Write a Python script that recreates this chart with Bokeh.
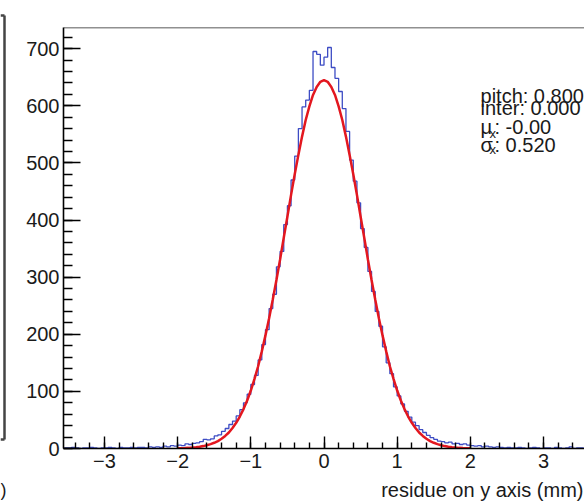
import numpy as np
from bokeh.plotting import figure
from bokeh.layouts import row
from bokeh.models import Range1d, FixedTicker, CustomJSTickFormatter, Label, Span
from bokeh.core.properties import value
from bokeh.embed import file_html
from bokeh.resources import INLINE

# ---------------- data ----------------
hist_start = -3.55
bin_width = 0.05
counts_neg = [
    1, 1, 2, 1, 0, 1, 1, 2, 1, 0,
    1, 1, 2, 1, 0, 2, 1, 1, 2, 1,
    2, 2, 1, 3, 2, 3, 2, 4, 3, 5,
    4, 6, 5, 8, 7, 9, 10, 12, 16, 15,
    17, 22, 24, 30, 35, 42, 48, 57, 68, 80,
    95, 112, 128, 155, 182, 208, 245, 270, 318, 345,
    392, 425, 470, 512, 560, 598, 610, 627, 695, 690,
    671,
]
counts_pos = [
    685, 702, 667, 648, 625, 595, 555, 505, 468, 430,
    385, 352, 310, 275, 240, 214, 178, 150, 131, 108,
    92, 78, 65, 55, 46, 40, 33, 28, 23, 19,
    16, 13, 12, 10, 11, 8, 9, 7, 8, 6,
    5, 4, 5, 3, 4, 3, 2, 3, 2, 1,
    2, 1, 1, 2, 1, 0, 1, 2, 1, 0,
    1, 1, 0, 2, 1, 0, 1, 3, 0, 1,
    1,
]
counts = counts_neg + counts_pos

fit_start = -2.0
fit_step = 0.05
fit_y = [
    0.4, 0.6, 0.8, 1.1, 1.6, 2.2, 3.1, 4.2, 5.7, 7.6,
    10, 13, 17, 22, 28, 36, 45, 56, 69, 84,
    101.5, 122, 144, 170, 198, 228, 261, 295, 331, 369,
    406, 444, 480, 514, 546, 575, 599, 619, 633, 642,
    645,
    642, 633, 619, 599, 575, 546, 514, 480, 444, 406,
    369, 331, 295, 261, 228, 198, 170, 144, 122, 101.5,
    84, 69, 56, 45, 36, 28, 22, 17, 13, 10,
    7.6, 5.7, 4.2, 3.1, 2.2, 1.6, 1.1, 0.8, 0.6, 0.4,
]

x_major = [-3, -2, -1, 0, 1, 2, 3]
y_major = [0, 100, 200, 300, 400, 500, 600, 700]
stat_lines = ["pitch: 0.800", "inter: 0.000"]
mu_text = ": -0.00"
sigma_text = ": 0.520"
x_title = "residue on y axis (mm)"

FONT = "Liberation Sans"

# ---------------- left strip: remnant of the neighbouring pad ----------------
strip = figure(width=8, height=503, output_backend="svg", toolbar_location=None,
               x_range=Range1d(0, 8), y_range=Range1d(503, 0),
               min_border=0, x_axis_type=None, y_axis_type=None)
if "frame_align" in strip.properties():
    strip.frame_align = False
strip.outline_line_color = None
strip.grid.visible = False
strip.background_fill_color = "white"
strip.border_fill_color = "white"
strip.segment(x0=[4], y0=[15], x1=[4], y1=[439], line_color="#444444", line_width=2.5)
strip.segment(x0=[0, 0], y0=[15, 439], x1=[4, 4], y1=[15, 439], line_color="#444444", line_width=2.5)
strip.text(x=[0], y=[489], text=[")"], text_font=value(FONT), text_font_size="18px",
           text_baseline="alphabetic", text_color="#1a1a1a")

# ---------------- main figure ----------------
p = figure(width=576, height=503, output_backend="svg", toolbar_location=None,
           x_range=Range1d(-3.56, 3.56), y_range=Range1d(0, 737),
           min_border_left=55, min_border_right=0, min_border_top=27,
           min_border_bottom=53)
if "frame_align" in p.properties():
    p.frame_align = False
p.outline_line_color = None
p.grid.visible = False
p.background_fill_color = "white"
p.border_fill_color = "white"

xminor = [round(v, 2) for v in np.arange(-3.4, 3.41, 0.2)]
p.xaxis.ticker = FixedTicker(ticks=x_major, minor_ticks=xminor)
p.yaxis.ticker = FixedTicker(ticks=y_major, minor_ticks=list(range(0, 737, 20)))
p.xaxis.formatter = CustomJSTickFormatter(
    code="return (tick < 0 ? '\\u2212' : '') + Math.abs(tick).toFixed(0);")

for ax in (p.xaxis[0], p.yaxis[0]):
    ax.axis_line_color = "black"
    ax.axis_line_width = 1.6
    ax.major_tick_line_color = "black"
    ax.minor_tick_line_color = "black"
    ax.major_tick_line_width = 1.4
    ax.minor_tick_line_width = 1.4
    ax.major_tick_out = 0
    ax.minor_tick_out = 0
    ax.major_label_text_font = FONT
    ax.major_label_text_font_size = "20px"
    ax.major_label_text_color = "#1a1a1a"

p.xaxis.major_tick_in = 12
p.xaxis.minor_tick_in = 6
p.xaxis.major_label_standoff = 5
p.yaxis.major_tick_in = 17
p.yaxis.minor_tick_in = 9
p.yaxis.major_label_standoff = 4

# x title: ROOT puts it at the right end of the axis; shift the centred
# Bokeh axis label to the right with leading non-breaking spaces
xa = p.xaxis[0]
xa.axis_label = "\u00a0" * 57 + x_title
xa.axis_label_text_font = FONT
xa.axis_label_text_font_size = "20px"
xa.axis_label_text_font_style = "normal"
xa.axis_label_text_color = "#1a1a1a"
xa.axis_label_standoff = 8

# top frame line
p.add_layout(Span(location=737, dimension="width", line_color="#222222", line_width=1.6))

# histogram (step outline)
edges = [hist_start + i * bin_width for i in range(len(counts) + 1)]
p.step(edges, counts + [counts[-1]], mode="after", line_color="#3d4cc4", line_width=1.3)

# gaussian fit
fit_x = [fit_start + i * fit_step for i in range(len(fit_y))]
p.line(fit_x, fit_y, line_color="#e3171f", line_width=2.5)

# stats box text (positions given in page pixels, converted to data)
def px_x(px):
    return (px - 323.5) / 73.17

def px_y(py):
    return (450 - py) / 0.574

def add_text(px, py, txt, size="20px"):
    p.add_layout(Label(x=px_x(px), y=px_y(py), text=txt, text_font=FONT,
                       text_font_size=size, text_baseline="alphabetic",
                       text_align="left", text_color="#1a1a1a"))

add_text(480, 96, stat_lines[0])
add_text(480, 108, stat_lines[1])
add_text(480, 127, "\u03bc")
add_text(489, 133, "x", "13px")
add_text(494, 127, mu_text)
add_text(480, 145, "\u03c3")
add_text(489, 150, "x", "13px")
add_text(494, 145, sigma_text)

layout = row(strip, p, spacing=0)
open("out.html", "w").write(file_html(layout, INLINE))
